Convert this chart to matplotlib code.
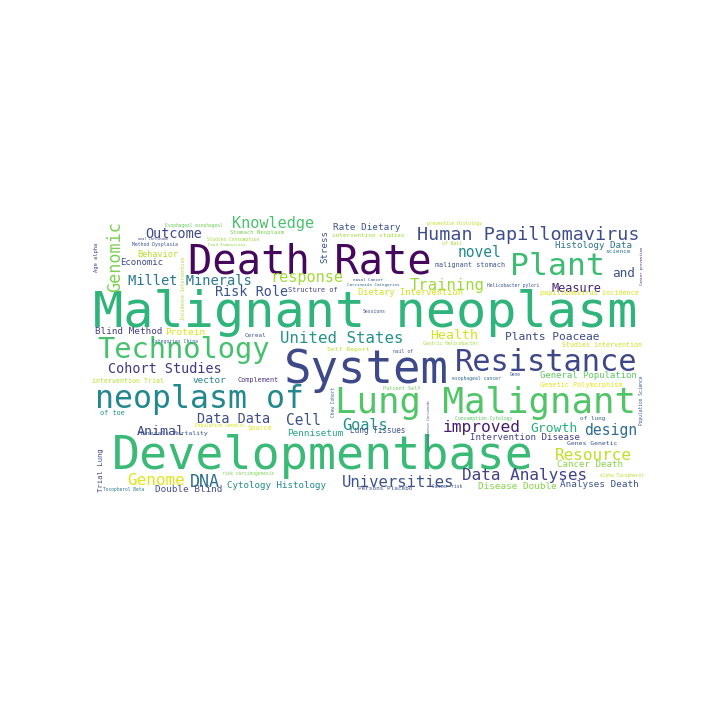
import matplotlib
matplotlib.use("Agg")
import matplotlib.pyplot as plt

# words of the cloud and their relative weight (rendered size)
words = [
    "Malignant neoplasm", "Developmentbase", "System", "Death Rate",
    "Lung Malignant", "neoplasm of", "Plant", "Resistance", "Technology",
    "Human Papillomavirus", "Genomic", "improved", "Genome", "DNA",
    "Resource", "Data Analyses", "United States", "Universities", "Training",
    "Knowledge", "response", "Goals", "design", "novel", "Cell",
    "Millet Minerals", "Outcome", "Risk Role", "Cohort Studies", "Data Data",
    "Animal", "Health", "Growth", "and", "Measure", "Plants Poaceae",
    "Behavior", "Economic", "Rate Dietary", "Stress", "Histology Data",
    "Dietary Intervention", "Blind Method", "Protein", "vector",
    "General Population", "Pennisetum", "Intervention Disease",
    "Cancer Death", "Analyses Death", "Disease Double", "Cytology Histology",
    "Double Blind", "Trial Lung", "Lung Tissues",
    "Genetic Polymorphism", "papillomavirus incidence", "Studies intervention",
    "intervention Trial", "Complement", "of toe", "Source",
    "Minerals Mortality", "Genes Genetic", "Self Report", "malignant stomach",
    "Structure of", "intervention studies", "Persons Placebo", "of lung",
    "science", "Cereal", "Stomach Neoplasm", "Method Dysplasia",
    "Esophageal esophageal", "Studies Consumption", "Food Fumonisins",
    "anal Carcinoma", "Age alpha", "Incidence Intervention",
    "prevention Histology", "of Nail", "Cancer prevention",
    "Helicobacter pylori", "Carcinoids Categories", "nasal Cancer",
    "Sessions", "Categories China", "nail of", "Gastric Helicobacter",
    "Patient Self", "esophageal cancer", "Gene", "Consumption Cytology",
    "Carcinogenesis Carcinoids", "Chew Cohort", "Population Science",
    "Population Genetic", "risk carcinogenesis", "alpha Tocopherol",
    "Cancer risk", "Tocopherol Beta",
]
weights = [
    50.3, 46.6, 45.7, 40.5, 35.8, 31.7, 31.5, 30.4, 28.7,
    18.4, 16.8, 16.3, 16.0, 16.6, 16.0, 16.0, 15.7, 15.6, 15.6,
    15.3, 15.2, 15.3, 14.7, 14.6, 14.5, 13.7, 13.5, 13.5, 13.5, 13.5,
    13.3, 13.3, 13.0, 12.7, 11.9, 11.3, 8.5, 9.0, 9.3, 9.1, 9.1,
    8.7, 9.3, 9.5, 9.4, 9.0, 9.3, 9.1, 9.1, 9.3, 9.4, 9.2,
    9.3, 7.3, 7.6,
    6.9, 6.8, 6.7, 6.7, 6.8, 6.9, 6.9, 6.5, 6.5, 6.5, 6.8,
    6.9, 6.0, 6.0, 6.0, 6.0, 6.0, 5.6, 4.7, 4.6, 4.5, 4.2,
    3.5, 5.4, 4.8, 4.6, 4.7, 3.7, 4.6, 4.2, 4.2, 4.8, 4.7, 4.7, 4.5,
    5.1, 4.7, 4.5, 4.7, 3.3, 4.5, 4.5, 4.6, 4.6, 4.5, 4.5, 4.6,
]

# layout of each word: left x, baseline y (figure pixels), rotation, colour
layout = [
    (93, 327, 0, "#2fb47c"), (112, 469, 0, "#3aba76"), (284, 383, 0, "#3e4989"),
    (188, 274, 0, "#46085c"), (335, 413, 0, "#52c569"), (95, 408, 0, "#23888e"),
    (510, 275, 0, "#3fbc73"), (455, 371, 0, "#3f4788"), (97, 358, 0, "#48c16e"),
    (417, 240, 0, "#3d4d8a"), (120, 292, 90, "#7ad151"), (443, 432, 0, "#481f70"),
    (127, 485, 0, "#e2e418"), (190, 487, 0, "#2d6f8e"), (555, 460, 0, "#c0df25"),
    (462, 480, 0, "#424186"), (280, 343, 0, "#21918c"), (342, 487, 0, "#3b528b"),
    (410, 290, 0, "#9dd93b"), (232, 228, 0, "#4ac16d"), (270, 282, 0, "#a2da37"),
    (342, 430, 0, "#20928c"), (584, 435, 0, "#2e6e8e"), (458, 257, 0, "#23898e"),
    (286, 425, 0, "#3b528b"), (128, 285, 0, "#2a788e"), (145, 238, 0, "#3e4a89"),
    (215, 296, 0, "#3b528b"), (108, 373, 0, "#453781"), (197, 423, 0, "#3e4c8a"),
    (137, 435, 0, "#3f4a8a"), (430, 339, 0, "#d2e21b"), (530, 432, 0, "#29af7f"),
    (612, 277, 0, "#3b528b"), (552, 292, 0, "#482475"), (505, 340, 0, "#3e4a89"),
    (137, 257, 0, "#b5de2b"), (120, 265, 0, "#3e4c8a"), (333, 230, 0, "#3b528b"),
    (327, 263, 90, "#3b528b"), (555, 248, 0, "#2c728e"), (358, 295, 0, "#d0e11c"),
    (95, 334, 0, "#433e85"), (165, 335, 0, "#dde318"), (193, 383, 0, "#26828e"),
    (540, 378, 0, "#5ec962"), (287, 436, 0, "#21a386"), (470, 440, 0, "#414487"),
    (557, 467, 0, "#86d549"), (560, 487, 0, "#3b528b"), (478, 489, 0, "#86d549"),
    (227, 488, 0, "#23898e"), (155, 492, 0, "#46508a"), (103, 492, 90, "#414487"),
    (350, 433, 0, "#3b528b"),
    (540, 387, 0, "#e5e419"), (540, 295, 0, "#d8e219"), (562, 347, 0, "#c8e020"),
    (92, 383, 0, "#b5de2b"), (237, 382, 0, "#46337e"), (100, 415, 0, "#21918c"),
    (248, 430, 0, "#e5e419"), (138, 435, 0, "#3b528b"), (567, 445, 0, "#3b528b"),
    (327, 351, 0, "#b8de29"), (435, 267, 0, "#3b528b"), (288, 292, 0, "#414487"),
    (332, 237, 0, "#a0da39"), (358, 490, 0, "#3b528b"), (580, 420, 0, "#31688e"),
    (605, 253, 0, "#2c728e"), (245, 337, 0, "#3b528b"), (230, 234, 0, "#7ad151"),
    (132, 246, 0, "#3b528b"), (165, 227, 0, "#6ccd5a"), (207, 241, 0, "#9fda3a"),
    (208, 246, 0, "#8fd744"), (138, 240, 0, "#414487"), (98, 272, 90, "#433e85"),
    (185, 320, 90, "#addc30"), (427, 225, 0, "#c2df23"), (442, 245, 0, "#a0da39"),
    (643, 285, 90, "#482878"), (487, 287, 0, "#3b528b"), (347, 286, 0, "#31688e"),
    (353, 281, 0, "#3b528b"), (363, 313, 0, "#3b528b"), (152, 343, 0, "#31688e"),
    (393, 353, 0, "#3b528b"), (423, 345, 0, "#a0da39"), (383, 390, 0, "#6ccd5a"),
    (452, 380, 0, "#31688e"), (510, 376, 0, "#3b528b"), (455, 420, 0, "#5ec962"),
    (430, 450, 90, "#3b528b"), (335, 417, 90, "#31688e"), (643, 425, 90, "#3b528b"),
    (195, 427, 0, "#d8e219"), (222, 475, 0, "#7ad151"), (600, 477, 0, "#b8de29"),
    (432, 488, 0, "#3b528b"), (103, 491, 0, "#2a788e"),
]

fig = plt.figure(figsize=(7.2, 7.2), dpi=100)
ax = fig.add_axes([0, 0, 1, 1])
ax.set_xlim(0, 720)
ax.set_ylim(720, 0)
ax.axis("off")

# weight is the glyph em size in pixels -> points
scale = 0.72
for w, size, (x, y, rot, col) in zip(words, weights, layout):
    ax.text(x, y, w, fontsize=size * scale, family="DejaVu Sans Mono",
            color=col, rotation=rot, rotation_mode="anchor",
            ha="left", va="baseline")

fig.savefig("out.png", dpi=100)
